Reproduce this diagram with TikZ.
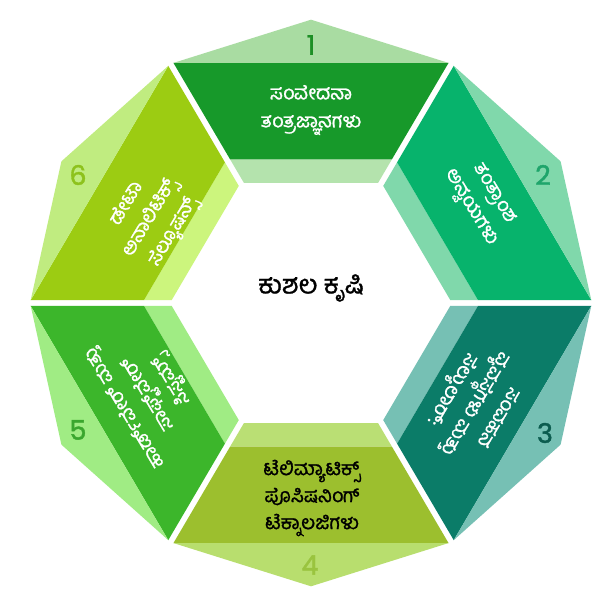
\documentclass[tikz,border=0pt]{standalone}
\usepackage{fontspec}
\newfontfamily\kn[Script=Kannada,FakeBold=1.2]{Hind Mysuru}
\newfontfamily\numf[FakeBold=1.5]{Poppins}
\definecolor{aD}{HTML}{17992A}\definecolor{aC}{HTML}{A9DCA2}\definecolor{aS}{HTML}{B4E3AD}\definecolor{aN}{HTML}{1D8F25}
\definecolor{bD}{HTML}{07B36C}\definecolor{bC}{HTML}{80D8AB}\definecolor{bS}{HTML}{80D8AB}\definecolor{bN}{HTML}{1FA56B}
\definecolor{cD}{HTML}{0B7C68}\definecolor{cC}{HTML}{76C0B4}\definecolor{cS}{HTML}{76C0B4}\definecolor{cN}{HTML}{0C5C4F}
\definecolor{dD}{HTML}{9CBF2E}\definecolor{dC}{HTML}{B8DE6E}\definecolor{dS}{HTML}{BADF74}\definecolor{dN}{HTML}{9AC43F}
\definecolor{eD}{HTML}{3CB62B}\definecolor{eC}{HTML}{A0EC84}\definecolor{eS}{HTML}{A0EC84}\definecolor{eN}{HTML}{3AA62E}
\definecolor{fD}{HTML}{9CCC12}\definecolor{fC}{HTML}{C0EC80}\definecolor{fS}{HTML}{CCF57D}\definecolor{fN}{HTML}{8DC21C}
\newcommand\kseg[4]{%
  \begin{scope}[rotate=#1]
    \fill[#4] (-67.04,122.11) -- (67.04,122.11) -- (80.9,146.11) -- (-80.9,146.11) -- cycle;
    \fill[#2] (-80.9,146.11) -- (80.9,146.11) -- (137.54,244.22) -- (-137.54,244.22) -- cycle;
    \fill[#3] (-137.54,244.22) -- (137.54,244.22) -- (0,288.2) -- cycle;
  \end{scope}}
\tikzset{
  lbl/.style={text=white,font=\kn\fontsize{19.5}{27}\selectfont,align=center,inner sep=0pt},
  lblk/.style={lbl,text=black},
  num/.style={font=\numf\fontsize{27}{27}\selectfont,inner sep=0pt}
}
\begin{document}
\begin{tikzpicture}[x=1pt,y=1pt]
\useasboundingbox (0,0) rectangle (603,592);
\fill[white] (0,0) rectangle (603,592);
\begin{scope}[shift={(311,289)},yscale=0.983]
  \kseg{0}{aD}{aC}{aS}
  \kseg{-60}{bD}{bC}{bS}
  \kseg{-120}{cD}{cC}{cS}
  \kseg{180}{dD}{dC}{dS}
  \kseg{120}{eD}{eC}{eS}
  \kseg{60}{fD}{fC}{fS}
\end{scope}
\node[lbl,font=\kn\fontsize{19.5}{28}\selectfont] (t1) at (311,482) {ಸಂವೇದನಾ\\ತಂತ್ರಜ್ಞಾನಗಳು};
\node[lbl,rotate=-59] (t2) at (481,391) {ತಂತ್ರಾಂಶ\\ಅನ್ವಯಗಳು};
\node[lbl,rotate=-121] (t3) at (473,190) {ಸಂವಹನ\\ವ್ಯವಸ್ಥೆಗಳು ಮತ್ತು\\ಸೆಲ್ಯುಲಾರ್:};
\node[lblk] (t4) at (312,94) {ಟೆಲಿಮ್ಯಾಟಿಕ್ಸ್\\ಪೊಸಿಷನಿಂಗ್\\ಟೆಕ್ನಾಲಜಿಗಳು};
\node[lbl,rotate=121] (t5) at (149,199) {ಹಾರ್ಡ್‌ವೇರ್ ಮತ್ತು\\ಸಾಫ್ಟ್‌ವೇರ್\\ಸಿಸ್ಟಮ್ಸ್};
\node[lbl,rotate=59] (t6) at (151,374) {ಡೇಟಾ\\ಅನಾಲಿಟಿಕ್ಸ್\\ಸೆಲ್ಯೂಷನ್ಸ್};
\node[lblk,font=\kn\fontsize{26}{30}\selectfont] (c) at (311,304) {ಕುಶಲ ಕೃಷಿ};
\node[num,text=aN] (n1) at (311,547) {1};
\node[num,text=bN] (n2) at (543,417) {2};
\node[num,text=cN] (n3) at (545,159) {3};
\node[num,text=dN] (n4) at (310,27) {4};
\node[num,text=eN] (n5) at (78,162) {5};
\node[num,text=fN] (n6) at (78,417) {6};
\end{tikzpicture}
\end{document}
